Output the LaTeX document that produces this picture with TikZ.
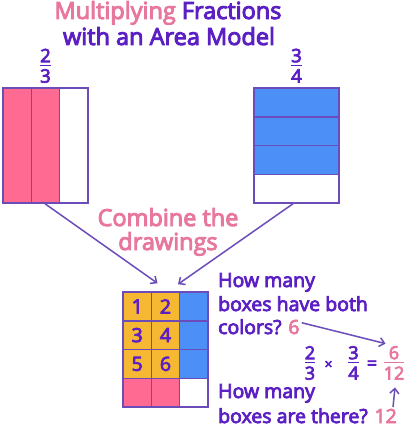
\documentclass[tikz,border=0pt]{standalone}
\usepackage{fontspec}
\setmainfont{Open Sans}
\newfontfamily\semifont{Open Sans}[FakeBold=4]
\usetikzlibrary{arrows.meta}

\definecolor{titlepink}{HTML}{E8779D}
\definecolor{deeppurple}{HTML}{5B1FC4}
\definecolor{edgepurple}{HTML}{6B4CB8}
\definecolor{cellpink}{HTML}{FF6A92}
\definecolor{cellblue}{HTML}{4B8FF7}
\definecolor{cellyellow}{HTML}{F6B733}

\setlength{\arrayrulewidth}{1.4pt}
\newcommand{\stackfrac}[2]{\begin{tabular}{@{}c@{}}#1\\[-4pt]\hline\noalign{\vskip1pt}#2\end{tabular}}

\tikzset{
  frame/.style={draw=edgepurple, line width=1.5pt},
  words/.style={text=deeppurple, inner sep=1pt, font=\fontsize{19.5}{22}\semifont},
  heading/.style={words, anchor=base, font=\fontsize{23.5}{26}\semifont},
  pointer/.style={draw=edgepurple, line width=1.5pt, -{Straight Barb[length=5pt,width=9pt]}}
}

\begin{document}
\begin{tikzpicture}[x=1pt,y=-1pt]
    \useasboundingbox (0,0) rectangle (405,430);
    % title
    \node[heading] (title1) at (168,19) {\textcolor{titlepink}{Multiplying} Fractions};
    \node[heading] (title2) at (169,45) {with an Area Model};
    % two-thirds strip
    \node[words, font=\fontsize{18.5}{22}\semifont] (lfrac) at (45.5,68) {\stackfrac{2}{3}};
    \fill[cellpink] (3,88) rectangle (59.7,203);
    \draw[frame] (31.3,88) -- (31.3,203);
    \draw[frame] (59.7,88) -- (59.7,203);
    \node[frame, minimum width=85pt, minimum height=115pt, inner sep=0pt] (lbox) at (45.5,145.5) {};
    % three-quarters strip
    \node[words, font=\fontsize{18.5}{22}\semifont] (rfrac) at (296.5,68) {\stackfrac{3}{4}};
    \fill[cellblue] (254,88) rectangle (339,174.3);
    \draw[frame] (254,116.8) -- (339,116.8);
    \draw[frame] (254,145.5) -- (339,145.5);
    \draw[frame] (254,174.3) -- (339,174.3);
    \node[frame, minimum width=85pt, minimum height=115pt, inner sep=0pt] (rbox) at (296.5,145.5) {};
    % middle caption
    \node[heading, text=titlepink] (comb1) at (168,226) {Combine the};
    \node[heading, text=titlepink] (comb2) at (168,250) {drawings};
    % combined grid
    \fill[cellyellow] (123,292) rectangle (179.7,378.3);
    \fill[cellblue] (179.7,292) rectangle (208,378.3);
    \fill[cellpink] (123,378.3) rectangle (179.7,407);
    \draw[frame] (151.3,292) -- (151.3,407);
    \draw[frame] (179.7,292) -- (179.7,407);
    \draw[frame] (123,320.8) -- (208,320.8);
    \draw[frame] (123,349.5) -- (208,349.5);
    \draw[frame] (123,378.3) -- (208,378.3);
    \node[frame, minimum width=85pt, minimum height=115pt, inner sep=0pt] (grid) at (165.5,349.5) {};
    \node[words] (n1) at (137.2,306.4) {1};
    \node[words] (n2) at (165.5,306.4) {2};
    \node[words] (n3) at (137.2,335.1) {3};
    \node[words] (n4) at (165.5,335.1) {4};
    \node[words] (n5) at (137.2,363.9) {5};
    \node[words] (n6) at (165.5,363.9) {6};
    \draw[pointer] ([xshift=-0.5pt]lbox.south) -- ([xshift=-8pt,yshift=8pt]grid.north);
    \draw[pointer] ([xshift=-3.5pt]rbox.south) -- ([xshift=12.5pt,yshift=7pt]grid.north);
    % questions
    \node[words, anchor=base west] (ask1) at (217,287) {How many};
    \node[words, anchor=base west] (ask2) at (217,311) {boxes have both};
    \node[words, anchor=base west] (ask3) at (217,334) {colors? \textcolor{titlepink}{6}};
    \node[words, anchor=base west] (ask4) at (217,398) {How many};
    \node[words, anchor=base west] (ask5) at (217,423) {boxes are there? \textcolor{titlepink}{12}};
    % equation
    \node[words, font=\fontsize{18}{22}\semifont] (fa) at (310,365) {\stackfrac{2}{3}};
    \node[words, font=\fontsize{14}{16}\semifont] (times) at (328.5,365) {×};
    \node[words, font=\fontsize{18}{22}\semifont] (fb) at (353.5,365) {\stackfrac{3}{4}};
    \node[words, font=\fontsize{18}{22}\semifont] (eq) at (372,365) {=};
    \node[words, text=titlepink, font=\fontsize{18}{22}\semifont] (res) at (394,365) {\stackfrac{6}{12}};
    \draw[pointer] ([xshift=1pt,yshift=4pt]ask3.east) -- ([xshift=3pt,yshift=-1pt]res.north west);
    \draw[pointer] ([xshift=-5pt]ask5.north east) -- ([xshift=1pt]res.south);
\end{tikzpicture}
\end{document}
